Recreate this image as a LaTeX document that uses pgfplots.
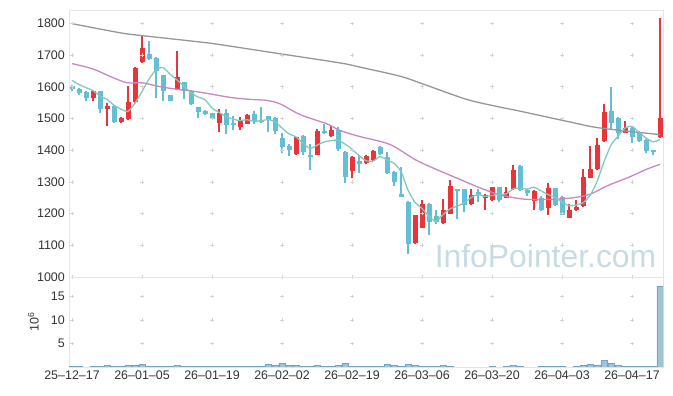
\documentclass[border=0pt]{standalone}
\usepackage{fontspec}
\setmainfont{Liberation Sans}
\usepackage{pgfplots}
\pgfplotsset{compat=1.18}
\usepackage{pgfplotstable}
\definecolor{upc}{RGB}{234,52,58}
\definecolor{dnc}{RGB}{100,190,214}
\definecolor{mafive}{RGB}{128,200,192}
\definecolor{matwenty}{RGB}{200,135,192}
\definecolor{malong}{RGB}{150,150,150}
\definecolor{volf}{RGB}{160,196,214}
\definecolor{vole}{RGB}{112,166,196}
\definecolor{axc}{RGB}{228,228,228}
\definecolor{gridc}{RGB}{212,212,212}
\definecolor{txt}{RGB}{51,51,51}
\definecolor{wm}{RGB}{200,218,228}

% rising candles (close >= open)
\pgfplotstableread{
i o h l c
3 1565 1588 1554 1586
5 1531 1549 1476 1539
7 1489 1504 1487 1502
8 1498 1602 1496 1552
9 1552 1661 1550 1659
10 1677 1764 1675 1722
15 1591 1714 1589 1630
21 1486 1530 1457 1518
24 1472 1506 1462 1491
25 1484 1514 1482 1512
32 1388 1443 1386 1441
35 1386 1467 1384 1460
37 1444 1475 1442 1462
40 1334 1380 1311 1378
42 1359 1386 1357 1380
43 1368 1400 1365 1398
49 1107 1197 1105 1195
50 1155 1243 1153 1230
53 1170 1247 1168 1210
54 1200 1307 1198 1286
57 1229 1279 1227 1258
59 1250 1261 1210 1258
60 1242 1285 1240 1283
62 1250 1283 1248 1268
63 1276 1352 1274 1337
66 1241 1274 1210 1270
68 1218 1295 1197 1280
71 1187 1230 1185 1211
72 1211 1243 1209 1220
73 1224 1342 1222 1316
74 1313 1413 1311 1340
75 1340 1437 1338 1416
76 1429 1547 1427 1521
79 1455 1492 1453 1470
84 1440 1816 1438 1502
}\upcandles

% falling candles (close < open)
\pgfplotstableread{
i o h l c
0 1602 1605 1588 1592
1 1594 1597 1574 1580
2 1584 1586 1554 1565
4 1586 1588 1517 1530
6 1539 1541 1487 1489
11 1704 1743 1684 1686
12 1692 1694 1565 1649
13 1636 1638 1554 1586
14 1573 1575 1554 1556
16 1614 1616 1560 1588
17 1588 1590 1542 1544
18 1535 1537 1502 1520
19 1523 1527 1510 1514
20 1516 1518 1497 1499
22 1517 1531 1452 1479
23 1486 1509 1462 1479
26 1514 1524 1483 1493
27 1496 1535 1487 1489
28 1507 1509 1456 1496
29 1502 1504 1452 1460
30 1438 1454 1390 1410
31 1413 1418 1381 1402
33 1444 1449 1386 1395
34 1386 1418 1336 1379
36 1460 1481 1452 1454
38 1465 1472 1397 1404
39 1395 1397 1297 1316
41 1365 1386 1328 1355
44 1410 1412 1385 1387
45 1379 1395 1326 1328
46 1331 1335 1288 1298
47 1261 1347 1251 1253
48 1237 1239 1072 1105
51 1230 1232 1132 1174
52 1192 1210 1168 1174
55 1277 1279 1184 1271
56 1276 1278 1205 1226
58 1268 1279 1238 1258
61 1283 1285 1236 1242
64 1350 1352 1272 1274
65 1274 1276 1255 1266
67 1248 1256 1209 1211
69 1280 1282 1224 1226
70 1253 1255 1195 1197
77 1524 1600 1463 1486
78 1502 1505 1434 1455
80 1470 1472 1423 1442
81 1458 1460 1426 1428
82 1432 1434 1391 1398
83 1400 1402 1384 1394
}\dncandles

\pgfplotstableread{
i m
0 1620
1 1607
2 1597
3 1588
4 1570.6
5 1560
6 1541.8
7 1529.2
8 1522.4
9 1548.2
10 1584.8
11 1624.2
12 1653.6
13 1660.4
14 1639.8
15 1621.4
16 1601.8
17 1580.8
18 1567.6
19 1559.2
20 1533
21 1519
22 1506
23 1497.8
24 1493.2
25 1495.8
26 1490.8
27 1492.8
28 1496.2
29 1490
30 1469.6
31 1451.4
32 1441.8
33 1421.6
34 1405.4
35 1415.4
36 1425.8
37 1430
38 1431.8
39 1419.2
40 1402.8
41 1383
42 1366.6
43 1365.4
44 1379.6
45 1369.6
46 1358.2
47 1332.8
48 1274.2
49 1235.8
50 1216.2
51 1191.4
52 1175.6
53 1196.6
54 1214.8
55 1223
56 1233.4
57 1250.2
58 1259.8
59 1254.2
60 1257
61 1260.6
62 1261.8
63 1277.6
64 1280.8
65 1277.4
66 1283
67 1271.6
68 1260.2
69 1250.6
70 1236.8
71 1225
72 1226.8
73 1234
74 1256.8
75 1300.6
76 1362.6
77 1415.8
78 1443.6
79 1469.6
80 1474.8
81 1456.2
82 1438.6
83 1426.4
84 1432.8
}\mafivetab

\pgfplotstableread{
i m
0 1673
3 1656
5.4 1633
7.8 1613
10.1 1612
12.6 1600
15 1592
17.3 1586
19 1580
21.1 1572
23 1565
25.5 1560
27.8 1557
29.7 1546
32.6 1512
36.4 1483
38.3 1462
41.1 1443
45.4 1418
49.2 1368
52.6 1334
55.4 1308
58.3 1281
61.1 1259
64 1247
66 1244
68.7 1245
71.6 1250
74 1261
76.4 1287
79.7 1316
82.1 1340
84 1355
}\matwentytab

\pgfplotstableread{
i m
0 1799
6.9 1770
10.1 1761
18.3 1741
21.1 1733
29.7 1704
38.3 1675
41.1 1662
46.9 1633
50.1 1609
56.4 1560
61.1 1536
64 1523
71.1 1489
75.4 1470
84 1449
}\malongtab

\pgfplotstableread{
i v
0 0.14
1 0.14
2 0.05
3 0.12
4 0.12
5 0.35
6 0.15
7 0.15
8 0.35
9 0.35
10 0.57
11 0.15
12 0.12
13 0.12
14 0.12
15 0.35
16 0.12
17 0.12
18 0.12
19 0.12
20 0.12
21 0.12
22 0.12
23 0.12
24 0.12
25 0.12
26 0.12
27 0.12
28 0.57
29 0.28
30 0.7
31 0.3
32 0.3
33 0.15
34 0.15
35 0.35
36 0.15
37 0.15
38 0.35
39 0.7
40 0.12
41 0.12
42 0.12
43 0.12
44 0.12
45 0.5
46 0.35
47 0.15
48 0.5
49 0.35
50 0.15
51 0.15
52 0.12
53 0.35
54 0.12
60 0.1
62 0.1
63 0.35
64 0.12
67 0.1
68 0.1
69 0.1
70 0.1
72 0.1
73 0.3
74 0.5
75 0.35
76 1.4
77 0.7
78 0.35
79 0.12
80 0.12
81 0.12
82 0.12
83 0.12
84 17.2
}\voltab

\pgfplotsset{
  chartbase/.style={
    scale only axis, width=594bp,
    xmin=-0.43, xmax=84.43,
    axis line style={axc, line width=0.8bp},
    major tick length=0pt,
    xtick={0,10,...,80},
    tick label style={font=\fontsize{12.5}{14}\selectfont, text=txt},
    /pgf/number format/assume math mode=true,
    yticklabel style={inner sep=2bp, xshift=-2bp},
  },
  crossmark/.style={only marks, mark=+, mark size=1.8bp, gridc, mark options={line width=0.7bp}, forget plot},
  stick/.style={forget plot, mark=none, -, line cap=butt},
}

\begin{document}
\begin{tikzpicture}
\path[use as bounding box] (0,0) rectangle (673bp,396bp);

\begin{axis}[chartbase,
  at={(69bp,119bp)}, anchor=south west, height=267bp,
  ymin=1000, ymax=1842,
  ytick={1000,1100,...,1800},
  yticklabels={1000,1100,1200,1300,1400,1500,1600,1700,1800},
  xticklabels={},
]
\node[anchor=base east, font=\fontsize{32}{32}\selectfont, text=wm, inner sep=0pt] at (rel axis cs:0.989,0.037) {InfoPointer.com};
\pgfplotsinvokeforeach{0,10,...,80}{
  \addplot[crossmark] coordinates {(#1,1000)(#1,1100)(#1,1200)(#1,1300)(#1,1400)(#1,1500)(#1,1600)(#1,1700)(#1,1800)};
}
% wicks
\addplot[stick, upc, line width=1.1bp, quiver={u=0, v={\thisrow{h}-\thisrow{l}}}]
  table[x=i, y=l] {\upcandles};
\addplot[stick, dnc, line width=1.1bp, quiver={u=0, v={\thisrow{h}-\thisrow{l}}}]
  table[x=i, y=l] {\dncandles};
% bodies
\addplot[stick, upc, line width=5bp, quiver={u=0, v={max(\thisrow{c}-\thisrow{o},3)}}]
  table[x=i, y=o] {\upcandles};
\addplot[stick, dnc, line width=5bp, quiver={u=0, v={max(\thisrow{o}-\thisrow{c},3)}}]
  table[x=i, y=c] {\dncandles};
% moving averages
\addplot[malong, line width=1.3bp, smooth, tension=0.5, mark=none] table[x=i, y=m] {\malongtab};
\addplot[matwenty, line width=1.3bp, smooth, tension=0.5, mark=none] table[x=i, y=m] {\matwentytab};
\addplot[mafive, line width=1.3bp, smooth, tension=0.4, mark=none] table[x=i, y=m] {\mafivetab};
\end{axis}

\begin{axis}[chartbase,
  at={(69bp,29bp)}, anchor=south west, height=90bp,
  ymin=0, ymax=19.1,
  ytick={5,10,15},
  yticklabels={5,10,15},
  xticklabels={25--12--17,26--01--05,26--01--19,26--02--02,26--02--19,26--03--06,26--03--20,26--04--03,26--04--17},
  xticklabel style={inner sep=2bp, yshift=-2bp},
  ylabel={10\textsuperscript{6}},
  ylabel style={at={(axis description cs:-0.06,0.5)}, anchor=center, font=\fontsize{12.5}{14}\selectfont, text=txt},
]
\pgfplotsinvokeforeach{0,10,...,80}{
  \addplot[crossmark] coordinates {(#1,5)(#1,10)(#1,15)};
}
\addplot[ybar, bar width=6.2bp, fill=volf, draw=vole, line width=0.5bp] table[x=i, y=v] {\voltab};
\end{axis}
\end{tikzpicture}
\end{document}
